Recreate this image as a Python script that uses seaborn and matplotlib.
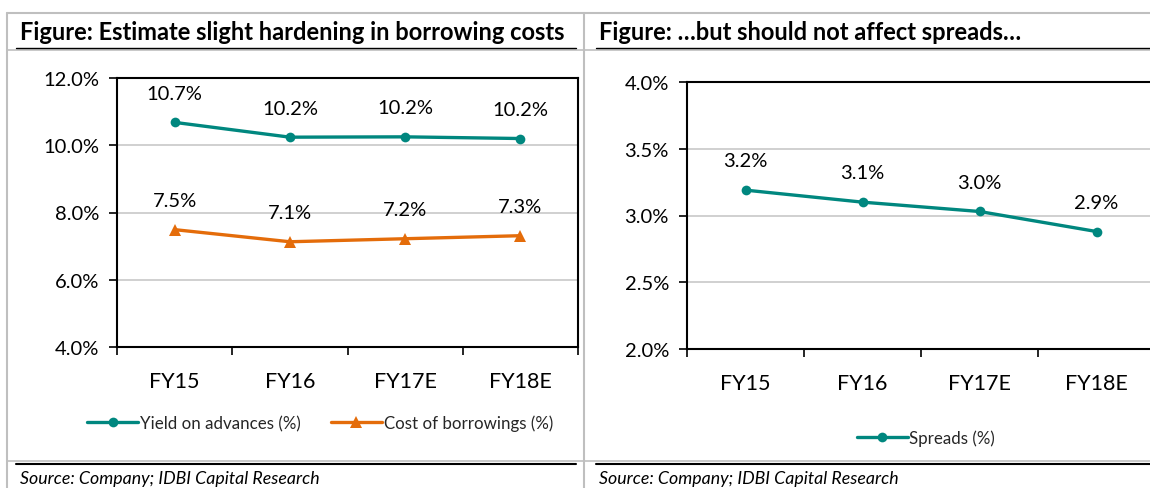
import matplotlib
matplotlib.use("Agg")
import matplotlib.pyplot as plt
from matplotlib.lines import Line2D
from matplotlib.ticker import FixedLocator, FuncFormatter
import seaborn as sns
import pandas as pd

sns.set_theme(style="white")
plt.rcParams['font.family'] = ['Lato', 'DejaVu Sans']

# ---------------- data ----------------
years = ["FY15", "FY16", "FY17E", "FY18E"]
yield_adv = [10.68, 10.24, 10.25, 10.20]
cost_borr = [7.49, 7.13, 7.22, 7.31]
spreads = [3.19, 3.10, 3.03, 2.88]

title_left = "Figure: Estimate slight hardening in borrowing costs"
title_right = "Figure: \u2026but should not affect spreads\u2026"
source_txt = "Source: Company; IDBI Capital Research"
left_yticks = [4.0, 6.0, 8.0, 10.0, 12.0]
right_yticks = [2.0, 2.5, 3.0, 3.5, 4.0]

TEAL = "#00877F"
ORANGE = "#E46C0A"
GRID = "#C8C8C8"
FRAME = "#BFBFBF"

W, H = 1150, 489
fig = plt.figure(figsize=(W / 100, H / 100), dpi=100)


def ax_at(x0, y0, x1, y1):
    return fig.add_axes([x0 / W, 1 - y1 / H, (x1 - x0) / W, (y1 - y0) / H])


def hline(y, x0, x1, color, lw):
    fig.add_artist(Line2D([x0 / W, x1 / W], [1 - y / H, 1 - y / H],
                          transform=fig.transFigure, color=color, lw=lw))


def vline(x, y0, y1, color, lw):
    fig.add_artist(Line2D([x / W, x / W], [1 - y0 / H, 1 - y1 / H],
                          transform=fig.transFigure, color=color, lw=lw))


# frame
hline(14, 7, W, FRAME, 1.5)
hline(51, 7, W, FRAME, 1.2)
hline(462, 7, W, FRAME, 1.2)
vline(7, 14, H, FRAME, 1.5)
vline(584, 14, H, FRAME, 1.5)
hline(49, 16, 576, "black", 1.0)
hline(49, 596, W, "black", 1.0)
hline(465, 16, 576, "black", 1.5)
hline(465, 596, W, "black", 1.5)

fig.text(20 / W, 1 - 32 / H, title_left, fontsize=17, fontweight="bold",
         va="center", ha="left", color="black")
fig.text(599 / W, 1 - 32 / H, title_right, fontsize=17, fontweight="bold",
         va="center", ha="left", color="black")
fig.text(20 / W, 1 - 479 / H, source_txt, fontsize=12.8, style="italic",
         va="center", ha="left", color="black")
fig.text(599 / W, 1 - 479 / H, source_txt, fontsize=12.8, style="italic",
         va="center", ha="left", color="black")

TICK_FS = 14.5
XTICK_FS = 15.5
LBL_FS = 14.5


def style_axis(ax, yticks, fmt):
    ax.set_xlim(-0.5, 3.5)
    ax.set_ylim(yticks[0], yticks[-1])
    ax.set_yticks(yticks)
    ax.yaxis.set_major_formatter(FuncFormatter(lambda v, p: fmt.format(v)))
    ax.set_xticks(range(len(years)))
    ax.set_xticklabels(years)
    ax.xaxis.set_minor_locator(FixedLocator([-0.5, 0.5, 1.5, 2.5, 3.5]))
    ax.tick_params(axis="x", which="major", length=0, pad=17, labelsize=XTICK_FS, colors="black")
    ax.tick_params(axis="x", which="minor", length=6, width=1.2, direction="out", color="black", bottom=True)
    ax.tick_params(axis="y", which="major", length=6, width=1.2, direction="out", pad=7,
                   labelsize=TICK_FS, color="black", left=True, labelcolor="black")
    ax.grid(axis="y", color=GRID, lw=1.2)
    ax.grid(axis="x", visible=False)
    for s in ax.spines.values():
        s.set_color("black")
        s.set_linewidth(1.5)
    ax.set_xlabel("")
    ax.set_ylabel("")
    ax.set_facecolor("white")


def annotate(ax, vals, fmt):
    for i, v in enumerate(vals):
        ax.annotate(fmt.format(v), (i, v), xytext=(0, 21), textcoords="offset points",
                    ha="center", va="center", fontsize=LBL_FS, color="black")


# ---------------- left panel ----------------
axL = ax_at(117, 79, 578, 348)
dfL = pd.DataFrame({"year": years, "yield": yield_adv, "cost": cost_borr})
sns.lineplot(data=dfL, x="year", y="yield", ax=axL, color=TEAL, lw=2.4,
             marker="o", markersize=7, markeredgewidth=0, sort=False)
sns.lineplot(data=dfL, x="year", y="cost", ax=axL, color=ORANGE, lw=2.4,
             marker="^", markersize=8, markeredgewidth=0, sort=False)
style_axis(axL, left_yticks, "{:.1f}%")
annotate(axL, yield_adv, "{:.1f}%")
annotate(axL, cost_borr, "{:.1f}%")

hL = [Line2D([], [], color=TEAL, lw=2.4, marker="o", markersize=7, markeredgewidth=0),
      Line2D([], [], color=ORANGE, lw=2.4, marker="^", markersize=8, markeredgewidth=0)]
fig.legend(hL, ["Yield on advances (%)", "Cost of borrowings (%)"], ncol=2,
           loc="center", bbox_to_anchor=(320 / W, 1 - 424 / H), frameon=False,
           fontsize=12.2, handlelength=3.0, handletextpad=0.1, columnspacing=1.8)

# ---------------- right panel ----------------
axR = ax_at(687, 83, 1155, 350)
dfR = pd.DataFrame({"year": years, "spreads": spreads})
sns.lineplot(data=dfR, x="year", y="spreads", ax=axR, color=TEAL, lw=2.4,
             marker="o", markersize=7, markeredgewidth=0, sort=False)
style_axis(axR, right_yticks, "{:.1f}%")
annotate(axR, spreads, "{:.1f}%")

hR = [Line2D([], [], color=TEAL, lw=2.4, marker="o", markersize=7, markeredgewidth=0)]
fig.legend(hR, ["Spreads (%)"], loc="center", bbox_to_anchor=(926 / W, 1 - 439 / H),
           frameon=False, fontsize=12.2, handlelength=3.0, handletextpad=0.1)

fig.savefig("out.png", dpi=100, facecolor="white")
